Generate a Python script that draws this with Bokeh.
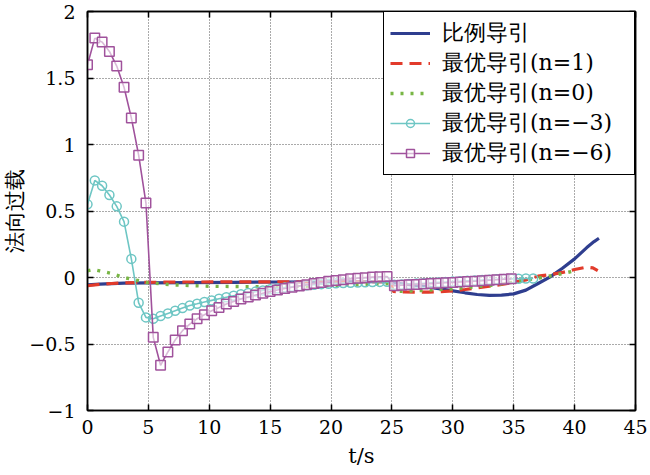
from bokeh.plotting import figure
from bokeh.models import LinearAxis, FixedTicker, Legend, LegendItem, Range1d
from bokeh.embed import file_html
from bokeh.resources import INLINE

# ---------------- data ----------------
x_ticks = [0, 5, 10, 15, 20, 25, 30, 35, 40, 45]
y_ticks = [-1, -0.5, 0, 0.5, 1, 1.5, 2]
y_tick_labels = {-1: "−1", -0.5: "−0.5", 0: "0", 0.5: "0.5", 1: "1", 1.5: "1.5", 2: "2"}

series_names = ["比例导引", "最优导引(n=1)", "最优导引(n=0)", "最优导引(n=−3)", "最优导引(n=−6)"]

# proportional navigation
t_pn = [0, 1, 2, 3, 5, 8, 12, 16, 20, 24.9, 25.1, 26, 27, 28, 29, 30, 31, 32, 33, 34, 35, 36,
        37, 38, 39, 40, 41, 41.6, 42]
y_pn = [-0.055, -0.05, -0.046, -0.043, -0.04, -0.038, -0.036, -0.034, -0.032, -0.03, -0.042,
        -0.05, -0.06, -0.072, -0.085, -0.1, -0.115, -0.128, -0.135, -0.133, -0.123, -0.095,
        -0.045, 0.005, 0.07, 0.14, 0.225, 0.27, 0.295]

# optimal n=1
t_n1 = [0, 1, 2, 3, 5, 8, 12, 16, 20, 24.9, 25.1, 26, 27, 28, 29, 30, 31, 32, 33, 34, 35, 36,
        37, 38, 39, 40, 41, 41.5, 41.9]
y_n1 = [-0.062, -0.052, -0.045, -0.04, -0.036, -0.034, -0.033, -0.032, -0.032, -0.032, -0.105,
        -0.108, -0.11, -0.11, -0.106, -0.1, -0.09, -0.078, -0.066, -0.052, -0.036, -0.018,
        0.01, 0.022, 0.038, 0.06, 0.078, 0.072, 0.052]

# optimal n=0
t_n0 = [0, 0.5, 1, 2, 3, 4, 5, 7, 10, 15, 20, 24.9, 25.1, 27, 30, 33, 35, 37, 38.5, 40]
y_n0 = [0.05, 0.06, 0.05, 0.03, 0.0, -0.02, -0.04, -0.055, -0.066, -0.07, -0.062, -0.045,
        -0.105, -0.1, -0.085, -0.06, -0.035, -0.005, 0.02, 0.05]

# optimal n=-3
t_n3 = [0.0, 0.6, 1.2, 1.8, 2.4, 3.0, 3.6, 4.2, 4.8, 5.4, 6.0, 6.6, 7.2, 7.8, 8.4, 9.0, 9.6,
        10.2, 10.8, 11.4, 12.0, 12.6, 13.2, 13.8, 14.4, 15.0, 15.6, 16.2, 16.8, 17.4, 18.0,
        18.6, 19.2, 19.8, 20.4, 21.0, 21.6, 22.2, 22.8, 23.4, 24.0, 24.6,
        25.2, 25.8, 26.4, 27.0, 27.6, 28.2, 28.8, 29.4, 30.0, 30.6, 31.2, 31.8, 32.4, 33.0,
        33.6, 34.2, 34.8, 35.4, 36.0, 36.6]
y_n3 = [0.55, 0.73, 0.69, 0.62, 0.535, 0.42, 0.14, -0.19, -0.30, -0.31, -0.29, -0.27, -0.25,
        -0.23, -0.21, -0.198, -0.184, -0.172, -0.16, -0.148, -0.137, -0.126, -0.116, -0.106,
        -0.097, -0.089, -0.082, -0.075, -0.069, -0.063, -0.058, -0.054, -0.05, -0.047, -0.044,
        -0.042, -0.04, -0.038, -0.036, -0.034, -0.033, -0.032,
        -0.055, -0.052, -0.049, -0.046, -0.043, -0.04, -0.037, -0.034, -0.031, -0.028, -0.025,
        -0.022, -0.019, -0.016, -0.013, -0.011, -0.01, -0.009, -0.008, -0.007]

# optimal n=-6
t_n6 = [0.0, 0.6, 1.2, 1.8, 2.4, 3.0, 3.6, 4.2, 4.8, 5.4, 6.0, 6.6, 7.2, 7.8, 8.4, 9.0, 9.6,
        10.2, 10.8, 11.4, 12.0, 12.6, 13.2, 13.8, 14.4, 15.0, 15.6, 16.2, 16.8, 17.4, 18.0,
        18.6, 19.2, 19.8, 20.4, 21.0, 21.6, 22.2, 22.8, 23.4, 24.0, 24.6,
        25.2, 25.8, 26.4, 27.0, 27.6, 28.2, 28.8, 29.4, 30.0, 30.6, 31.2, 31.8, 32.4, 33.0,
        33.6, 34.2, 34.8]
y_n6 = [1.60, 1.80, 1.77, 1.70, 1.59, 1.43, 1.20, 0.92, 0.56, -0.45, -0.66, -0.56, -0.47,
        -0.40, -0.35, -0.31, -0.28, -0.25, -0.225, -0.20, -0.18, -0.162, -0.146, -0.131,
        -0.118, -0.106, -0.094, -0.083, -0.073, -0.063, -0.054, -0.045, -0.037, -0.029,
        -0.022, -0.016, -0.01, -0.005, -0.001, 0.003, 0.006, 0.008,
        -0.062, -0.058, -0.055, -0.052, -0.049, -0.046, -0.043, -0.04, -0.037, -0.034,
        -0.031, -0.028, -0.025, -0.021, -0.017, -0.013, -0.01]

# ---------------- styles ----------------
C_BLUE = "#2f3e8f"
C_RED = "#e23b2b"
C_GREEN = "#78b645"
C_CYAN = "#6ec6c4"
C_MAG = "#a0529c"
SERIF = "DejaVu Serif"

p = figure(frame_width=548, frame_height=399,
           x_range=Range1d(0, 45), y_range=Range1d(-1, 2),
           output_backend="svg", toolbar_location=None,
           min_border_left=78, min_border_right=14, min_border_top=11, min_border_bottom=50,
           background_fill_color="white", border_fill_color="white")

p.outline_line_color = "black"
p.outline_line_width = 1.5
p.outline_line_alpha = 1

for ax, ticks in ((p.xaxis[0], x_ticks), (p.yaxis[0], y_ticks)):
    ax.ticker = FixedTicker(ticks=ticks)
    ax.major_tick_in = 6
    ax.major_tick_out = 0
    ax.minor_tick_line_color = None
    ax.axis_line_color = "black"
    ax.axis_line_width = 1.5
    ax.major_tick_line_color = "black"
    ax.major_tick_line_width = 1.5
    ax.major_label_text_font = SERIF
    ax.major_label_text_font_size = "19px"
    ax.major_label_text_color = "black"
    ax.axis_label_text_font = SERIF
    ax.axis_label_text_font_size = "21px"
    ax.axis_label_text_font_style = "normal"
    ax.axis_label_text_color = "black"

p.yaxis[0].major_label_overrides = y_tick_labels
p.xaxis[0].axis_label = "t/s"
p.yaxis[0].axis_label = "法向过载"
p.xaxis[0].major_label_standoff = 9
p.xaxis[0].axis_label_standoff = 7
p.yaxis[0].major_label_standoff = 12
p.yaxis[0].axis_label_standoff = -1

# tick marks only (no labels) on the top and right edges
for loc, ticks in (("right", y_ticks), ("above", x_ticks)):
    ax = LinearAxis(ticker=FixedTicker(ticks=ticks), major_label_text_font_size="1px",
                    major_label_text_color=None, major_label_standoff=0,
                    major_tick_in=6, major_tick_out=0,
                    minor_tick_line_color=None, axis_line_color="black", axis_line_width=1.5,
                    major_tick_line_color="black", major_tick_line_width=1.5)
    p.add_layout(ax, loc)

for g in (p.xgrid[0], p.ygrid[0]):
    g.grid_line_color = "#555555"
    g.grid_line_dash = "1 2"
    g.grid_line_width = 1
    g.grid_line_alpha = 1

r_pn = p.line(t_pn, y_pn, line_color=C_BLUE, line_width=3.2)
r_n1 = p.line(t_n1, y_n1, line_color=C_RED, line_width=3.2, line_dash="12 7")
r_n0 = p.line(t_n0, y_n0, line_color=C_GREEN, line_width=3.4, line_dash="3 7")
r_n3l = p.line(t_n3, y_n3, line_color=C_CYAN, line_width=1.6)
r_n3m = p.scatter(t_n3, y_n3, marker="circle", size=9, line_color=C_CYAN, line_width=1.5,
                  fill_color="white", fill_alpha=0.0)
r_n6l = p.line(t_n6, y_n6, line_color=C_MAG, line_width=1.6)
r_n6m = p.scatter(t_n6, y_n6, marker="square", size=9.5, line_color=C_MAG, line_width=1.5,
                  fill_color="white", fill_alpha=0.6)

items = [
    LegendItem(label=series_names[0], renderers=[r_pn]),
    LegendItem(label=series_names[1], renderers=[r_n1]),
    LegendItem(label=series_names[2], renderers=[r_n0]),
    LegendItem(label=series_names[3], renderers=[r_n3l, r_n3m]),
    LegendItem(label=series_names[4], renderers=[r_n6l, r_n6m]),
]
legend = Legend(items=items, location="top_right", margin=0, padding=6, spacing=0,
                glyph_width=40, glyph_height=20, label_height=20, label_standoff=12,
                label_width=186,
                label_text_font=SERIF, label_text_font_size="22px", label_text_color="black",
                border_line_color="black", border_line_width=1.5, border_line_alpha=1,
                background_fill_color="white", background_fill_alpha=1)
p.add_layout(legend)

open("out.html", "w").write(file_html(p, INLINE))
